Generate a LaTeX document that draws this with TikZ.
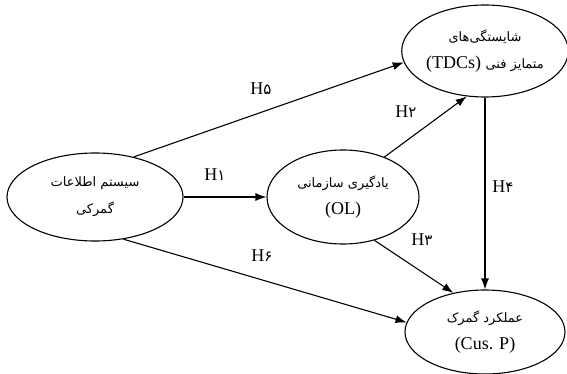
\documentclass[tikz,border=0pt]{standalone}
\usepackage{fontspec}
\setmainfont{Liberation Serif}
\newfontfamily\fa[Script=Arabic]{DejaVu Sans}
\TeXXeTstate=1
\usetikzlibrary{shapes.geometric,arrows.meta}

\begin{document}
\begin{tikzpicture}[x=1pt,y=-1pt,
    construct/.style={draw, ellipse, line width=1.1pt, align=center, inner sep=0pt,
      font=\fontsize{18}{27}\selectfont},
    hyp/.style={-{Latex[length=11pt,width=8pt]}, line width=1.1pt},
    hlabel/.style={font=\fontsize{18}{20}\selectfont}]
    \useasboundingbox (0,0) rectangle (567,374);

    % constructs
    \node[construct, minimum width=176, minimum height=88] (sys) at (95,197)
      {\beginR{\fa\fontsize{13}{13}\selectfont سیستم اطلاعات}\endR\\
       \beginR{\fa\fontsize{13}{13}\selectfont گمرکی}\endR};
    \node[construct, minimum width=152, minimum height=94] (ol) at (343,197)
      {\beginR{\fa\fontsize{13}{13}\selectfont یادگیری سازمانی}\endR\\(OL)};
    \node[construct, minimum width=164, minimum height=92] (tdc) at (485,51)
      {\beginR{\fa\fontsize{13}{13}\selectfont شایستگی‌های}\endR\\
       \beginR{\fa\fontsize{13}{13}\selectfont متمایز فنی} \beginL(TDCs)\endL\endR};
    \node[construct, minimum width=160, minimum height=84] (cus) at (485,332)
      {\beginR{\fa\fontsize{13}{13}\selectfont عملکرد گمرک}\endR\\(Cus. P)};

    % hypotheses
    \draw[hyp] (sys.east) -- (ol.west);
    \draw[hyp] (sys.46) -- (tdc.188);
    \draw[hyp] (sys.304) -- (cus.173);
    \draw[hyp] (ol.44) -- (tdc.248);
    \draw[hyp] (ol.306) -- (cus.129);
    \draw[hyp] (tdc.south) -- (cus.north);

    \node[hlabel] (h1) at (215,175) {H{\fa\fontsize{15}{15}\selectfont ۱}};
    \node[hlabel] (h2) at (406,112) {H{\fa\fontsize{15}{15}\selectfont ۲}};
    \node[hlabel] (h3) at (422,240) {H{\fa\fontsize{15}{15}\selectfont ۳}};
    \node[hlabel] (h4) at (503,187) {H{\fa\fontsize{15}{15}\selectfont ۴}};
    \node[hlabel] (h5) at (261,89) {H{\fa\fontsize{15}{15}\selectfont ۵}};
    \node[hlabel] (h6) at (262,256) {H{\fa\fontsize{15}{15}\selectfont ۶}};

\end{tikzpicture}
\end{document}
